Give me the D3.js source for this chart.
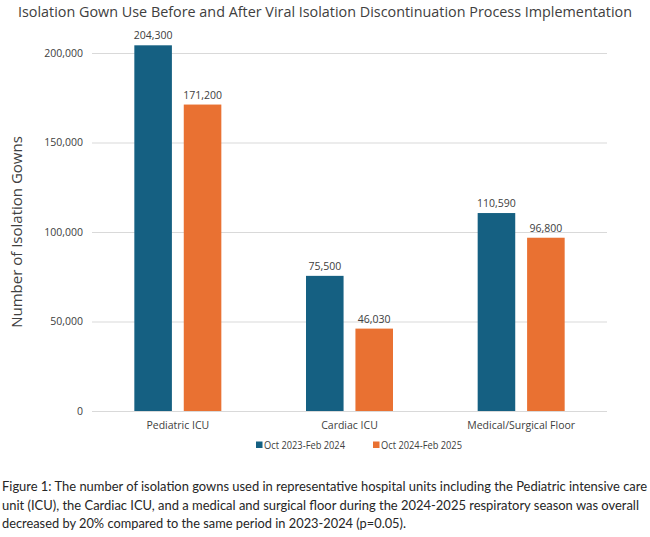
<!DOCTYPE html>
<html>
<head>
<meta charset="utf-8">
<script src="https://cdn.jsdelivr.net/npm/d3@7"></script>
<style>
  body { margin: 0; background: #fff; }
  svg { display: block; font-family: "Open Sans", "Liberation Sans", sans-serif; }
</style>
</head>
<body>
<svg id="chart" width="650" height="537"></svg>
<script>
// chart data
const units = ["Pediatric ICU", "Cardiac ICU", "Medical/Surgical Floor"];
const periods = ["Oct 2023-Feb 2024", "Oct 2024-Feb 2025"];
const before = [204300, 75500, 110590];
const after = [171200, 46030, 96800];
const yTicks = [0, 50000, 100000, 150000, 200000];
const colors = ["#156082", "#E97132"];

const svg = d3.select("#chart");
const plotL = 92, plotR = 607, plotT = 53, plotB = 411;

const y = d3.scaleLinear().domain([0, 200000]).range([plotB, plotT]);
const x0 = d3.scaleBand().domain(units).range([plotL, plotR]).padding(0);
const x1 = d3.scaleBand().domain(periods).range([0, 87]).paddingInner(0.24).paddingOuter(0);

const fmt = d3.format(",");

// title
svg.append("text")
  .attr("x", 325).attr("y", 17)
  .attr("text-anchor", "middle")
  .attr("font-size", 14.5)
  .attr("fill", "#404040")
  .attr("textLength", 614).attr("lengthAdjust", "spacingAndGlyphs")
  .text("Isolation Gown Use Before and After Viral Isolation Discontinuation Process Implementation");

// gridlines + tick labels
const yAxis = d3.axisLeft(y).tickValues(yTicks).tickFormat(fmt).tickSize(-(plotR - plotL)).tickPadding(9);
const ga = svg.append("g").attr("transform", `translate(${plotL},0)`).call(yAxis);
ga.select(".domain").remove();
ga.selectAll(".tick line").attr("stroke", "#d9d9d9").attr("stroke-width", 1);
ga.selectAll(".tick text").attr("font-size", 10.5).attr("fill", "#404040")
  .attr("font-family", "\"Open Sans\", sans-serif");

// y axis title
svg.append("text")
  .attr("transform", "translate(22,232) rotate(-90)")
  .attr("text-anchor", "middle")
  .attr("font-size", 15)
  .attr("fill", "#404040")
  .text("Number of Isolation Gowns");

// bars
const series = [before, after];
const groups = svg.append("g").selectAll("g").data(units).join("g")
  .attr("transform", d => `translate(${x0(d) + (x0.bandwidth() - 87) / 2},0)`);

groups.selectAll("rect")
  .data((d, i) => periods.map((p, j) => ({ p, v: series[j][i], j })))
  .join("rect")
  .attr("x", d => x1(d.p))
  .attr("y", d => y(d.v))
  .attr("width", x1.bandwidth())
  .attr("height", d => plotB - y(d.v))
  .attr("fill", d => colors[d.j]);

groups.selectAll("text.val")
  .data((d, i) => periods.map((p, j) => ({ p, v: series[j][i] })))
  .join("text")
  .attr("class", "val")
  .attr("x", d => x1(d.p) + x1.bandwidth() / 2)
  .attr("y", d => y(d.v) - 6)
  .attr("text-anchor", "middle")
  .attr("font-size", 10.5)
  .attr("fill", "#404040")
  .text(d => fmt(d.v));

// category labels
svg.append("g").selectAll("text").data(units).join("text")
  .attr("x", d => x0(d) + x0.bandwidth() / 2)
  .attr("y", 429)
  .attr("text-anchor", "middle")
  .attr("font-size", 10.5)
  .attr("fill", "#404040")
  .text(d => d);

// legend
const legX = [256, 373];
const leg = svg.append("g").selectAll("g").data(periods).join("g")
  .attr("transform", (d, i) => `translate(${legX[i]},445)`);
leg.append("rect").attr("x", 0).attr("y", -3.5).attr("width", 6.5).attr("height", 6.5)
  .attr("fill", (d, i) => colors[i]);
leg.append("text").attr("x", 8).attr("y", 3.5).attr("font-size", 10)
  .attr("fill", "#404040")
  .attr("textLength", 81).attr("lengthAdjust", "spacingAndGlyphs")
  .text(d => d);

// caption
const caption = [
  "Figure 1: The number of isolation gowns used in representative hospital units including the Pediatric intensive care",
  "unit (ICU), the Cardiac ICU, and a medical and surgical floor during the 2024-2025 respiratory season was overall",
  "decreased by 20% compared to the same period in 2023-2024 (p=0.05)."
];
const capLen = [645, 637, 404];
svg.append("g").selectAll("text").data(caption).join("text")
  .attr("x", 2)
  .attr("y", (d, i) => 491 + i * 18.7)
  .attr("font-family", "Lato, sans-serif")
  .attr("font-size", 12.6)
  .attr("fill", "#262626")
  .attr("textLength", (d, i) => capLen[i])
  .attr("lengthAdjust", "spacingAndGlyphs")
  .text(d => d);
</script>
</body>
</html>
